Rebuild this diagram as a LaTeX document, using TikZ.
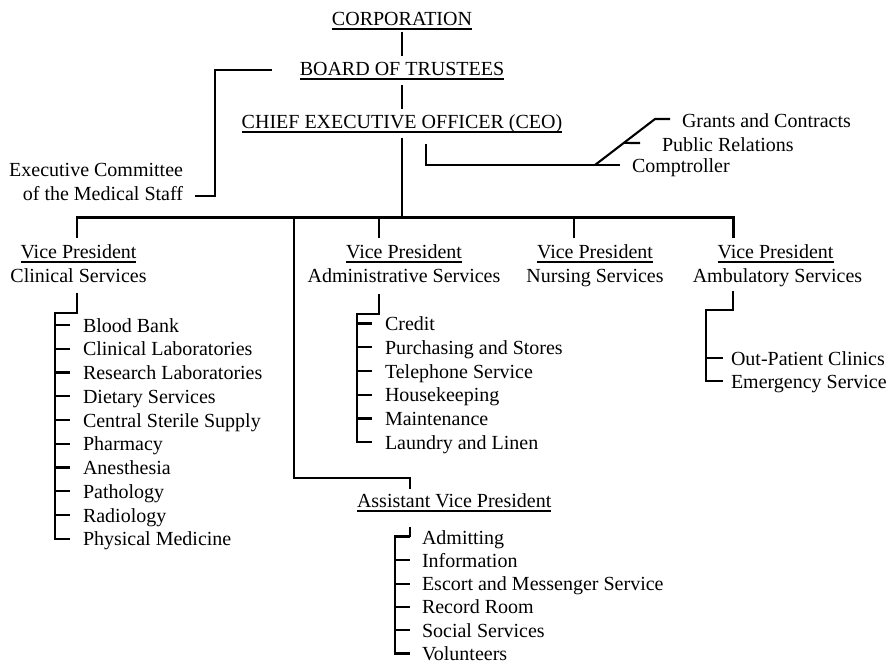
\documentclass[tikz,border=0pt]{standalone}
\usepackage{fontspec}
\setmainfont{Liberation Serif}
\usetikzlibrary{calc}
% rule drawn under a title node
\newcommand\underrule[1]{\draw[uline] ($(#1.base west)+(0,4)$) -- ($(#1.base east)+(0,4)$);}
\begin{document}
\begin{tikzpicture}[x=1pt,y=-1pt,
  font=\fontsize{20}{24}\selectfont,
  lbl/.style={inner sep=0pt,outer sep=0pt,anchor=base},
  lblw/.style={lbl,anchor=base west},
  lble/.style={lbl,anchor=base east},
  conn/.style={line width=2.1pt},
  uline/.style={line width=1.2pt}]
\fill[white] (0,0) rectangle (894,664);
\useasboundingbox (0,0) rectangle (894,664);

% --- top of the chain ---
\node[lbl] (corp)  at (402,25)  {CORPORATION};
\node[lbl] (board) at (402,75)  {BOARD OF TRUSTEES};
\node[lbl] (ceo)   at (402,128) {CHIEF EXECUTIVE OFFICER (CEO)};
\underrule{corp}\underrule{board}\underrule{ceo}

\node[lble] (execA) at (183,176.5) {Executive Committee};
\node[lble] (execB) at (183,200.5) {of the Medical Staff};

\node[lblw] (grants) at (682,127) {Grants and Contracts};
\node[lblw] (pubrel) at (662,151) {Public Relations};
\node[lblw] (comp)   at (632,172) {Comptroller};

% --- vice presidents ---
\node[lbl] (vpA) at (78.5,258) {Vice President};
\node[lbl] (svA) at (78.5,282) {Clinical Services};
\node[lbl] (vpB) at (404,258)  {Vice President};
\node[lbl] (svB) at (404,282)  {Administrative Services};
\node[lbl] (vpC) at (595,258)  {Vice President};
\node[lbl] (svC) at (595,282)  {Nursing Services};
\node[lbl] (vpD) at (775.5,258) {Vice President};
\node[lbl] (svD) at (777.5,282) {Ambulatory Services};
\node[lblw] (avp) at (357,507) {Assistant Vice President};
\underrule{vpA}\underrule{vpB}\underrule{vpC}\underrule{vpD}\underrule{avp}

% --- departments ---
\foreach \t [count=\i] in {Blood Bank,Clinical Laboratories,Research Laboratories,
    Dietary Services,Central Sterile Supply,Pharmacy,Anesthesia,Pathology,
    Radiology,Physical Medicine}
  \node[lblw] (cl\i) at (83,{332+23.75*(\i-1)}) {\t};
\foreach \t [count=\i] in {Credit,Purchasing and Stores,Telephone Service,
    Housekeeping,Maintenance,Laundry and Linen}
  \node[lblw] (ad\i) at (385,{330.5+23.75*(\i-1)}) {\t};
\foreach \t [count=\i] in {Out-Patient Clinics,Emergency Service}
  \node[lblw] (am\i) at (731,{365+23*(\i-1)}) {\t};
\foreach \t [count=\i] in {Admitting,Information,Escort and Messenger Service,
    Record Room,Social Services,Volunteers}
  \node[lblw] (as\i) at (422,{544+23.3*(\i-1)}) {\t};

% --- connectors: main chain ---
\coordinate (bar) at (402,217.5);
\draw[conn] ($(corp.base)+(0,7)$) -- ($(board.north)+(0,-6)$);
\draw[conn] ($(board.base)+(0,10)$) -- ($(ceo.north)+(0,-5)$);
\draw[conn] ($(ceo.base)+(0,10)$) -- (bar);

% board to the medical staff committee
\coordinate (bk) at (215,70);
\draw[conn] ($(board.base west)+(-28,-5)$) -- (bk) |- ($(execB.base east)+(12,-4.5)$);

% CEO staff offices
\coordinate (dlo) at (595,165);
\coordinate (dhi) at (655,119);
\draw[conn] ($(ceo.base)+(24,16)$) |- ($(comp.base west)+(-12,-7)$);
\draw[conn] (dlo) -- (dhi) -- ($(grants.base west)+(-12,-8)$);
\draw[conn] ($(dlo)!0.48!(dhi)$) -- ($(pubrel.base west)+(-22,-8)$);

% horizontal bar to the vice presidents
\coordinate (bA) at (77,217.5);
\coordinate (bB) at (379,217.5);
\coordinate (bC) at (574,217.5);
\coordinate (bD) at (733.5,217.5);
\coordinate (bE) at (294,217.5);
\draw[conn] ($(bA |- vpA.north)+(0,-6)$) -- (bA) -- (bD) -- ($(bD |- vpD.north)+(0,-6)$);
\draw[conn] (bB) -- ($(bB |- vpB.north)+(0,-6)$);
\draw[conn] (bC) -- ($(bC |- vpC.north)+(0,-6)$);

% assistant vice president
\coordinate (ak) at (410,478);
\draw[conn] (bE) |- (ak) -- ($(ak |- avp.north)+(0,-4)$);

% clinical services bracket
\coordinate (kA) at (55,313);
\draw[conn] ($(svA.base)+(-1.5,11)$) |- (kA) -- ($(kA |- cl10.base)+(0,-7)$) -- ($(cl10.base west)+(-13,-7)$);
\foreach \i in {1,...,9}
  \draw[conn] ($(kA |- cl\i.base)+(0,-7)$) -- ($(cl\i.base west)+(-13,-7)$);

% administrative services bracket
\coordinate (kB) at (357,314);
\draw[conn] ($(svB.base)+(-25,12)$) |- (kB) -- ($(kB |- ad6.base)+(0,-7)$) -- ($(ad6.base west)+(-13,-7)$);
\foreach \i in {1,...,5}
  \draw[conn] ($(kB |- ad\i.base)+(0,-7)$) -- ($(ad\i.base west)+(-13,-7)$);

% ambulatory services bracket
\coordinate (kD) at (706,310);
\draw[conn] ($(svD.base)+(-44.5,9)$) |- (kD) -- ($(kD |- am2.base)+(0,-7)$) -- ($(am2.base west)+(-8,-7)$);
\draw[conn] ($(kD |- am1.base)+(0,-7)$) -- ($(am1.base west)+(-8,-7)$);

% assistant vice president bracket
\coordinate (kE) at (395,536);
\draw[conn] ($(avp.base west)+(53,20)$) |- (kE) -- ($(kE |- as6.base)+(0,-7)$) -- ($(as6.base west)+(-12,-7)$);
\foreach \i in {1,...,5}
  \draw[conn] ($(kE |- as\i.base)+(0,-7)$) -- ($(as\i.base west)+(-12,-7)$);
\end{tikzpicture}
\end{document}
